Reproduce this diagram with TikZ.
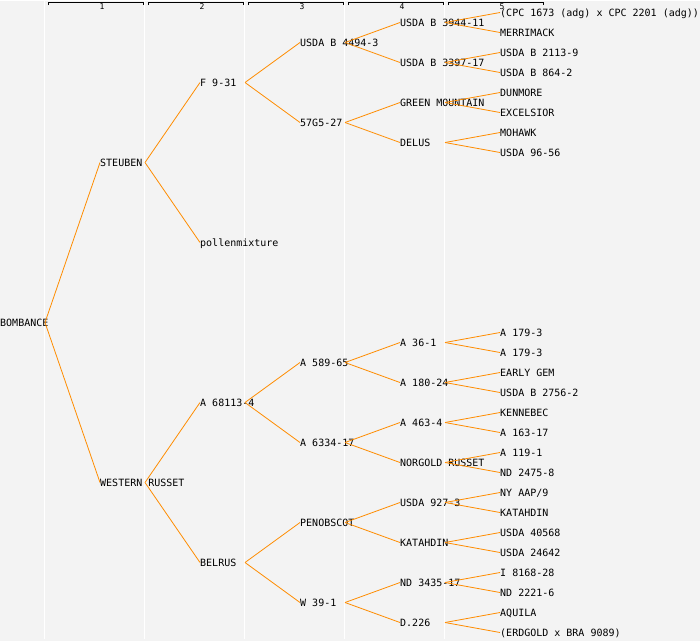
\documentclass[tikz,border=0pt]{standalone}
\usepackage{fontspec}
\setmonofont{DejaVu Sans Mono}
\usepackage{xcolor}
\definecolor{pedline}{HTML}{FF8C00}
\definecolor{pedback}{HTML}{F3F3F3}
\usepackage{tikz}

\begin{document}
\begin{tikzpicture}[x=1pt, y=-1pt,
    plant/.style={anchor=west, inner sep=0pt, text height=7.3pt, text depth=0pt,
                  font=\ttfamily\fontsize{10}{10}\selectfont},
    gen/.style={inner sep=0pt, font=\ttfamily\fontsize{8}{8}\selectfont},
    edge/.style={draw=pedline, line width=0.8pt}]
          \fill[pedback] (0,0) rectangle (700,640);
          \foreach \k in {0,...,4} {
            \draw[white, line width=1pt] (44.5+100*\k,0) -- (44.5+100*\k,638);
            \draw[black, line width=0.8pt] (48+100*\k,4.5) -- (48+100*\k,1.5) -- (143+100*\k,1.5) -- (143+100*\k,4.5);
            \pgfmathtruncatemacro{\n}{\k+1}
            \node[gen] (g\n) at (102+100*\k,6.5) {\n};
          }

          % generation 0 and 1
          \node[plant] (bombance) at (0,322) {BOMBANCE};
          \node[plant] (steuben)  at (100,162) {STEUBEN};
          \node[plant] (wrusset)  at (100,482) {WESTERN RUSSET};

          % generation 2
          \node[plant] (f931)   at (200,82)  {F 9-31};
          \node[plant] (pollen) at (200,242) {pollenmixture};
          \node[plant] (a68113) at (200,402) {A 68113-4};
          \node[plant] (belrus) at (200,562) {BELRUS};

          % generation 3
          \node[plant] (usdab4494) at (300,42)  {USDA B 4494-3};
          \node[plant] (g5727)     at (300,122) {57G5-27};
          \node[plant] (a58965)    at (300,362) {A 589-65};
          \node[plant] (a633417)   at (300,442) {A 6334-17};
          \node[plant] (penobscot) at (300,522) {PENOBSCOT};
          \node[plant] (w391)      at (300,602) {W 39-1};

          % generation 4
          \node[plant] (usdab3944) at (400,22)  {USDA B 3944-11};
          \node[plant] (usdab3397) at (400,62)  {USDA B 3397-17};
          \node[plant] (greenmtn)  at (400,102) {GREEN MOUNTAIN};
          \node[plant] (delus)     at (400,142) {DELUS};
          \node[plant] (a361)      at (400,342) {A 36-1};
          \node[plant] (a18024)    at (400,382) {A 180-24};
          \node[plant] (a4634)     at (400,422) {A 463-4};
          \node[plant] (norgold)   at (400,462) {NORGOLD RUSSET};
          \node[plant] (usda927)   at (400,502) {USDA 927-3};
          \node[plant] (katahdinA) at (400,542) {KATAHDIN};
          \node[plant] (nd3435)    at (400,582) {ND 3435-17};
          \node[plant] (d226)      at (400,622) {D.226};

          % generation 5
          \node[plant] (cpc)       at (500,12)  {(CPC 1673 (adg) x CPC 2201 (adg))};
          \node[plant] (merrimack) at (500,32)  {MERRIMACK};
          \node[plant] (usdab2113) at (500,52)  {USDA B 2113-9};
          \node[plant] (usdab864)  at (500,72)  {USDA B 864-2};
          \node[plant] (dunmore)   at (500,92)  {DUNMORE};
          \node[plant] (excelsior) at (500,112) {EXCELSIOR};
          \node[plant] (mohawk)    at (500,132) {MOHAWK};
          \node[plant] (usda9656)  at (500,152) {USDA 96-56};
          \node[plant] (a1793a)    at (500,332) {A 179-3};
          \node[plant] (a1793b)    at (500,352) {A 179-3};
          \node[plant] (earlygem)  at (500,372) {EARLY GEM};
          \node[plant] (usdab2756) at (500,392) {USDA B 2756-2};
          \node[plant] (kennebec)  at (500,412) {KENNEBEC};
          \node[plant] (a16317)    at (500,432) {A 163-17};
          \node[plant] (a1191)     at (500,452) {A 119-1};
          \node[plant] (nd2475)    at (500,472) {ND 2475-8};
          \node[plant] (nyaap)     at (500,492) {NY AAP/9};
          \node[plant] (katahdinB) at (500,512) {KATAHDIN};
          \node[plant] (usda40568) at (500,532) {USDA 40568};
          \node[plant] (usda24642) at (500,552) {USDA 24642};
          \node[plant] (i8168)     at (500,572) {I 8168-28};
          \node[plant] (nd2221)    at (500,592) {ND 2221-6};
          \node[plant] (aquila)    at (500,612) {AQUILA};
          \node[plant] (erdgold)   at (500,632) {(ERDGOLD x BRA 9089)};

          \foreach \p/\c in {bombance/steuben, bombance/wrusset,
              steuben/f931, steuben/pollen, wrusset/a68113, wrusset/belrus,
              f931/usdab4494, f931/g5727, a68113/a58965, a68113/a633417,
              belrus/penobscot, belrus/w391,
              usdab4494/usdab3944, usdab4494/usdab3397, g5727/greenmtn, g5727/delus,
              a58965/a361, a58965/a18024, a633417/a4634, a633417/norgold,
              penobscot/usda927, penobscot/katahdinA, w391/nd3435, w391/d226,
              usdab3944/cpc, usdab3944/merrimack, usdab3397/usdab2113, usdab3397/usdab864,
              greenmtn/dunmore, greenmtn/excelsior, delus/mohawk, delus/usda9656,
              a361/a1793a, a361/a1793b, a18024/earlygem, a18024/usdab2756,
              a4634/kennebec, a4634/a16317, norgold/a1191, norgold/nd2475,
              usda927/nyaap, usda927/katahdinB, katahdinA/usda40568, katahdinA/usda24642,
              nd3435/i8168, nd3435/nd2221, d226/aquila, d226/erdgold}
            \draw[edge] ([xshift=45pt]\p.west) -- (\c.west);
        \end{tikzpicture}
\end{document}
